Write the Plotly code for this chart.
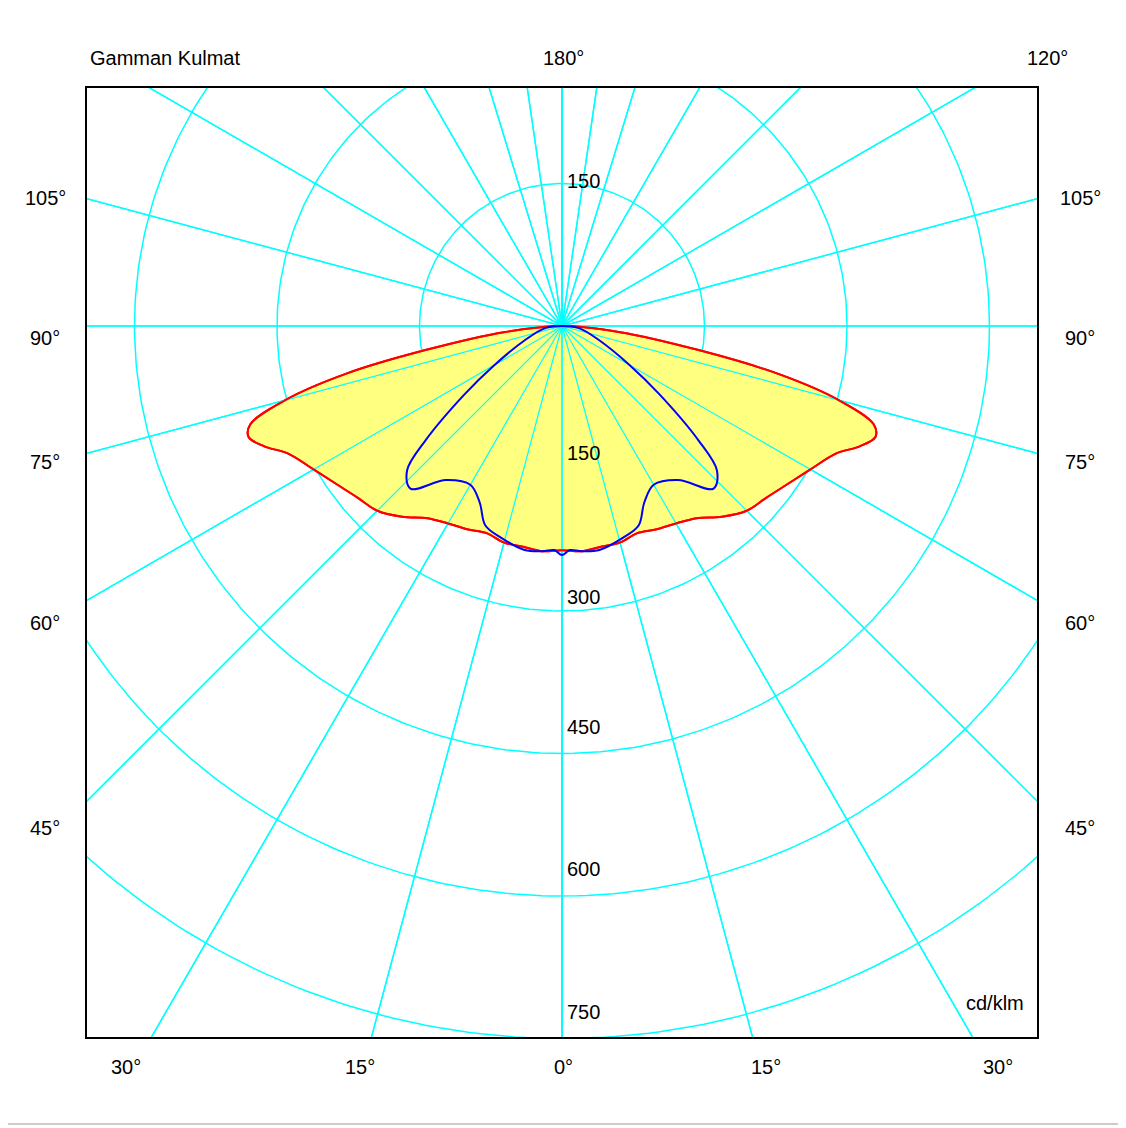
import plotly.graph_objects as go
import numpy as np

# C0-C180 plane (red) and C90-C270 plane (blue), gamma in degrees, intensity cd/klm
gamma_red = [0, 5, 10, 15, 20, 25, 30, 35, 40, 45, 50, 55, 60, 65, 68, 70.5, 72.5, 75, 77.5, 80, 84, 90]
int_red = [236, 238, 236, 236, 232, 236, 240, 247, 262, 275, 281, 290, 302, 318, 338, 350, 344, 302, 234, 146, 60, 0]
gamma_blue = [0, 2, 5, 9.5, 16, 21, 25, 30, 37, 43, 47, 50, 55, 60, 69, 83, 90]
int_blue = [241, 236, 238, 239, 232, 225, 205, 193, 203, 234, 223, 188, 125, 82, 42, 18, 0]

circle_values = [150, 300, 450, 600, 750]
spoke_angles = [0, 15, 30, 45, 60, 75, 90, 105, 120, 135, 150, 163, 171.7, 180]

side_labels = ["105°", "90°", "75°", "60°", "45°"]
side_label_y = [185, 325, 462, 623, 841]
bottom_labels = ["30°", "15°", "0°", "15°", "30°"]
bottom_label_x = [126, 360, 563, 766, 998]

S = 0.95  # px per cd/klm
OFF = 8   # page body margin


def to_xy(g, r):
    g = np.radians(np.asarray(g, float))
    r = np.asarray(r, float)
    return r * np.sin(g), -r * np.cos(g)


def mirrored(g, r):
    g = np.asarray(g, float)
    r = np.asarray(r, float)
    gg = np.concatenate([-g[::-1], g[1:]])
    rr = np.concatenate([r[::-1], r[1:]])
    return to_xy(gg, rr)


fig = go.Figure()
CYAN = "#00FFFF"

t = np.linspace(0, 2 * np.pi, 400)
for v in circle_values:
    fig.add_trace(go.Scatter(x=v * np.cos(t), y=v * np.sin(t), mode="lines",
                             line=dict(color=CYAN, width=1.5), hoverinfo="skip"))
for a in spoke_angles:
    for sgn in (1, -1):
        x, y = to_xy([sgn * a, sgn * a], [0, 1200])
        fig.add_trace(go.Scatter(x=x, y=y, mode="lines",
                                 line=dict(color=CYAN, width=1.5), hoverinfo="skip"))

rx, ry = mirrored(gamma_red, int_red)
fig.add_trace(go.Scatter(x=rx, y=ry, mode="lines", fill="toself", fillcolor="#FFFF80",
                         line=dict(color="red", width=2, shape="spline"), hoverinfo="skip"))
# spokes stay visible on the yellow fill
for a in spoke_angles:
    for sgn in (1, -1):
        x, y = to_xy([sgn * a, sgn * a], [0, 1200])
        fig.add_trace(go.Scatter(x=x, y=y, mode="lines",
                                 line=dict(color=CYAN, width=1.2), hoverinfo="skip"))
fig.add_trace(go.Scatter(x=rx, y=ry, mode="lines",
                         line=dict(color="red", width=2, shape="spline"), hoverinfo="skip"))
bx, by = mirrored(gamma_blue, int_blue)
fig.add_trace(go.Scatter(x=bx, y=by, mode="lines",
                         line=dict(color="blue", width=2, shape="spline"), hoverinfo="skip"))

font = dict(family="Arial, Liberation Sans", size=20, color="black")
ann_list = []


def add_text(px, py, text, xanchor="center"):
    ann_list.append(dict(x=(px - 86) / 952, y=(1038 - py) / 951, text=text, xref="paper",
                         yref="paper", showarrow=False, font=font, xanchor=xanchor))


for v, ypos in zip([150] + circle_values, [168, 453, 597, 740, 882, 1025]):
    add_text(583, ypos, str(v))
add_text(88, 45, "Gamman Kulmat", "left")
add_text(563, 45, "180°")
add_text(1047, 45, "120°")
for lab, yy in zip(side_labels, side_label_y):
    add_text(45, yy, lab)
    add_text(1080, yy, lab)
for lab, xx in zip(bottom_labels, bottom_label_x):
    add_text(xx, 1080, lab)
add_text(995, 1016, "cd/klm")

fig.update_layout(
    width=1126 - OFF, height=1128 - OFF,
    margin=dict(l=86 - OFF, r=88, t=87 - OFF, b=90),
    plot_bgcolor="white", paper_bgcolor="white",
    showlegend=False,
    annotations=ann_list,
    xaxis=dict(range=[-476 / S, 476 / S], visible=False, fixedrange=True),
    yaxis=dict(range=[-712 / S, 239 / S], visible=False, fixedrange=True),
    shapes=[
        dict(type="rect", xref="paper", yref="paper", x0=0, y0=0, x1=1, y1=1,
             line=dict(color="black", width=2)),
        dict(type="rect", xref="paper", yref="paper", x0=(4 - 86) / 952, x1=(1122 - 86) / 952,
             y0=(1038 - 1124) / 951, y1=(1038 - 4) / 951, line=dict(color="#999999", width=1)),
    ],
)

fig.write_html("out.html")
